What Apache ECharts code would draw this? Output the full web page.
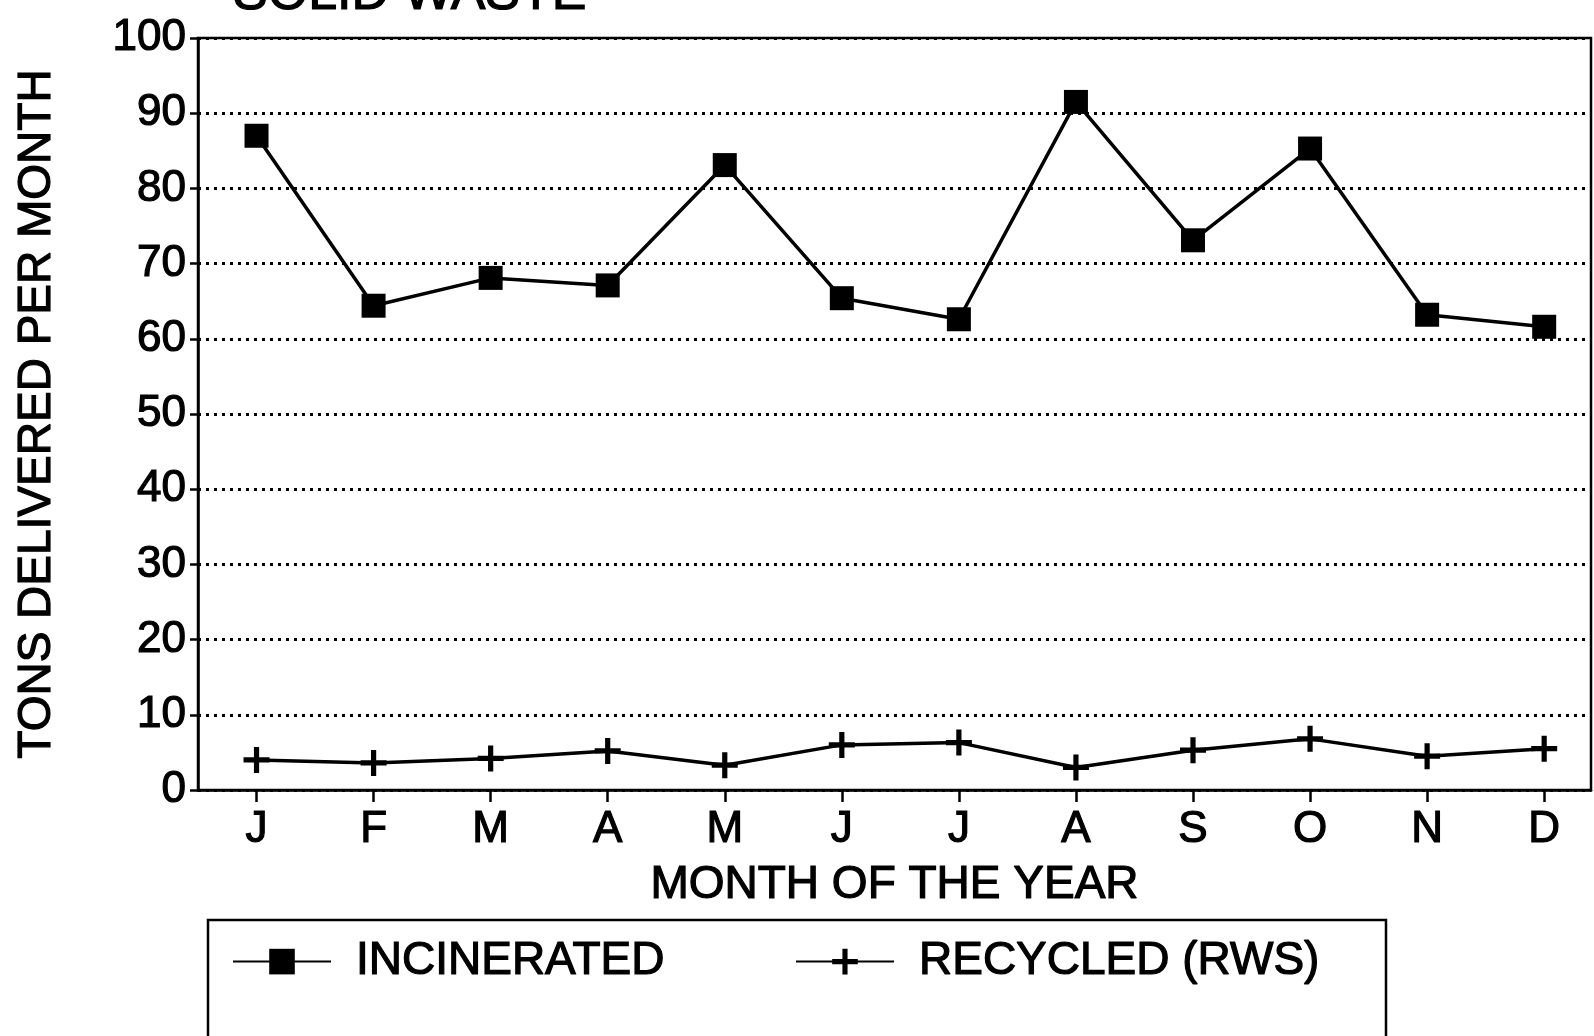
<!DOCTYPE html>
<html lang="en">
<head>
    <meta charset="UTF-8">
    <title>Solid waste</title>
    <style>
        * { padding: 0; margin: 0; }
        body { background: #fff; }
        #myChart { width: 1594px; height: 1036px; }
    </style>
</head>
<body>
    <div id="myChart"></div>
    <script src="https://cdn.jsdelivr.net/npm/echarts@6/dist/echarts.min.js"></script>
    <script>
        // data
        const months = ['J', 'F', 'M', 'A', 'M', 'J', 'J', 'A', 'S', 'O', 'N', 'D'];
        const incinerated = [87, 64.4, 68.1, 67.1, 83.1, 65.4, 62.6, 91.5, 73.1, 85.3, 63.2, 61.6];
        const recycled = [4.0, 3.6, 4.2, 5.2, 3.3, 6.0, 6.3, 3.0, 5.3, 6.8, 4.5, 5.5];
        const yTicks = [0, 10, 20, 30, 40, 50, 60, 70, 80, 90, 100];

        const font = '"Liberation Sans", Arial, sans-serif';
        // heavier strokes, like the photocopy
        const ink = { color: '#000', textBorderColor: '#000', textBorderWidth: 1.2 };
        const plus = 'path://M0,4H10V6H0Z M4,0H6V10H4Z';
        const monthIdx = months.map((m, i) => i);

        let myChart = echarts.init(document.getElementById('myChart'));
        let option = {
            backgroundColor: '#fff',
            animation: false,
            title: {
                text: 'SOLID WASTE',
                left: 228,
                top: -36,
                textStyle: Object.assign({ fontFamily: font, fontSize: 52, fontWeight: 'normal' }, ink)
            },
            grid: {
                left: 198,
                right: 3,
                top: 38,
                bottom: 246,
                show: true,
                borderColor: '#000',
                borderWidth: 2.5
            },
            legend: {
                left: 208,
                top: 920,
                padding: [18, 66, 90, 24],
                borderColor: '#000',
                borderWidth: 2.5,
                itemWidth: 98,
                itemHeight: 32,
                itemGap: 130,
                textStyle: Object.assign({
                    fontFamily: font, fontSize: 46,
                    padding: [0, 0, 0, 20]
                }, ink),
                data: ['INCINERATED', 'RECYCLED (RWS)']
            },
            xAxis: {
                type: 'value',
                min: -0.5,
                max: 11.4,
                name: 'MONTH OF THE YEAR',
                nameLocation: 'middle',
                nameGap: 72,
                nameTextStyle: Object.assign({ fontFamily: font, fontSize: 46 }, ink),
                axisLine: { lineStyle: { color: '#000', width: 2.5 } },
                axisTick: {
                    customValues: monthIdx,
                    length: 12,
                    lineStyle: { color: '#000', width: 2.5 }
                },
                axisLabel: Object.assign({
                    customValues: monthIdx,
                    margin: 18,
                    fontFamily: font, fontSize: 44,
                    formatter: v => months[Math.round(v)]
                }, ink),
                splitLine: { show: false }
            },
            yAxis: {
                type: 'value',
                min: yTicks[0],
                max: yTicks[yTicks.length - 1],
                interval: 10,
                name: 'TONS DELIVERED PER MONTH',
                nameLocation: 'middle',
                nameGap: 138,
                nameTextStyle: Object.assign({ fontFamily: font, fontSize: 46 }, ink),
                axisLine: { show: true, onZero: false, lineStyle: { color: '#000', width: 2.5 } },
                axisTick: { show: true, length: 8, lineStyle: { color: '#000', width: 2.5 } },
                axisLabel: Object.assign({ margin: 12, fontFamily: font, fontSize: 44 }, ink),
                splitLine: {
                    show: true,
                    lineStyle: { color: '#000', width: 3, type: [3, 5] }
                }
            },
            series: [{
                    name: 'INCINERATED',
                    type: 'line',
                    data: incinerated.map((v, i) => [i, v]),
                    symbol: 'rect',
                    symbolSize: 24,
                    itemStyle: { color: '#000' },
                    lineStyle: { color: '#000', width: 3.5 }
                },
                {
                    name: 'RECYCLED (RWS)',
                    type: 'line',
                    data: recycled.map((v, i) => [i, v]),
                    symbol: plus,
                    symbolSize: 26,
                    itemStyle: { color: '#000' },
                    lineStyle: { color: '#000', width: 3.5 }
                }
            ]
        };
        myChart.setOption(option);
    </script>
</body>
</html>
